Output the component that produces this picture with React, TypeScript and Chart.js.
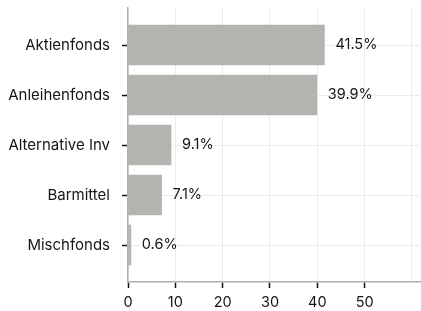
import React, { useEffect, useRef } from "react";
import { Chart, registerables } from "chart.js";

Chart.register(...registerables);

const categories = ["Aktienfonds", "Anleihenfonds", "Alternative Inv", "Barmittel", "Mischfonds"];
const values = [41.5, 39.9, 9.1, 7.1, 0.6];
const xTicks = [0, 10, 20, 30, 40, 50, 60];
const xLabelsShown = [0, 10, 20, 30, 40, 50];

const FONT = "Inter";
const TEXT = "#161616";

const valueLabels = {
  id: "valueLabels",
  afterDatasetsDraw(chart: any) {
    const ctx = chart.ctx;
    const meta = chart.getDatasetMeta(0);
    ctx.save();
    ctx.font = `14.5px ${FONT}`;
    ctx.fillStyle = TEXT;
    ctx.textAlign = "left";
    ctx.textBaseline = "middle";
    meta.data.forEach((bar: any, i: number) => {
      ctx.fillText(`${values[i].toFixed(1)}%`, bar.x + 11, bar.y);
    });
    ctx.restore();
  },
};

export default function App() {
  const ref = useRef<HTMLCanvasElement>(null);
  useEffect(() => {
    const chart = new Chart(ref.current as HTMLCanvasElement, {
      type: "bar",
      data: {
        datasets: [
          {
            data: values.map((v, i) => ({ x: v, y: i })) as any,
            backgroundColor: "#b4b3af",
            borderWidth: 0,
            barThickness: 40,
          },
        ],
      },
      options: {
        indexAxis: "y",
        animation: false,
        responsive: true,
        maintainAspectRatio: false,
        layout: { padding: { top: 8, right: 1, left: 0, bottom: 0 } },
        plugins: { legend: { display: false }, tooltip: { enabled: false } },
        scales: {
          x: {
            type: "linear",
            min: 0,
            max: 61.7,
            offset: false,
            afterBuildTicks: (scale: any) => {
              scale.ticks = xTicks.map((value) => ({ value }));
            },
            afterFit: (scale: any) => {
              scale.height = 29;
            },
            grid: {
              offset: false,
              color: "#ebebeb",
              lineWidth: 1,
              tickLength: 6,
              tickWidth: 1.5,
              tickColor: (c: any) => (c.tick && xLabelsShown.includes(c.tick.value) ? "#111" : "rgba(0,0,0,0)"),
            },
            border: { color: "#b0b0b0", width: 1.5 },
            ticks: {
              color: TEXT,
              font: { family: FONT, size: 14.5, lineHeight: 1.2 },
              padding: 6,
              maxRotation: 0,
              autoSkip: false,
              callback: (v: any) => (xLabelsShown.includes(v) ? String(v) : ""),
            },
          },
          y: {
            type: "linear",
            reverse: true,
            min: -0.74,
            max: 4.74,
            offset: false,
            afterBuildTicks: (scale: any) => {
              scale.ticks = categories.map((_, i) => ({ value: i }));
            },
            afterFit: (scale: any) => {
              scale.paddingTop = 0;
              scale.paddingBottom = 0;
              scale.width = 128;
            },
            grid: {
              offset: false,
              color: "#ebebeb",
              lineWidth: 1,
              tickLength: 6,
              tickWidth: 1.5,
              tickColor: "#111",
            },
            border: { color: "#b0b0b0", width: 1.5 },
            ticks: {
              color: TEXT,
              font: { family: FONT, size: 15 },
              padding: 12,
              autoSkip: false,
              callback: (v: any) => categories[v] ?? "",
            },
          },
        },
      },
      plugins: [valueLabels],
    });
    return () => chart.destroy();
  }, []);
  return (
    <div style={{ position: "absolute", left: 0, top: 0, width: 421, height: 311 }}>
      <canvas ref={ref} />
    </div>
  );
}
